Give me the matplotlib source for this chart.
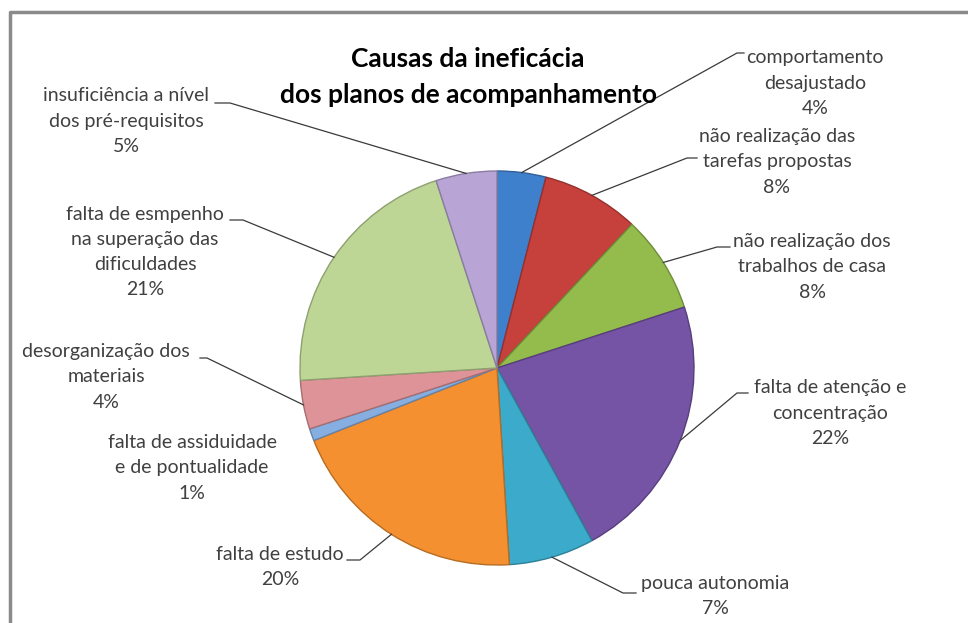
import matplotlib
matplotlib.use('Agg')
import matplotlib.pyplot as plt
from matplotlib.lines import Line2D
from matplotlib.colors import to_rgb
import numpy as np

# chart data
causas = ['comportamento\ndesajustado',
          'não realização das\ntarefas propostas',
          'não realização dos\ntrabalhos de casa',
          'falta de atenção e\nconcentração',
          'pouca autonomia',
          'falta de estudo',
          'falta de assiduidade\ne de pontualidade',
          'desorganização dos\nmateriais',
          'falta de esmpenho\nna superação das\ndificuldades',
          'insuficiência a nível\ndos pré-requisitos']
percent = [4, 8, 8, 22, 7, 20, 1, 4, 21, 5]
titulo = 'Causas da ineficácia\ndos planos de acompanhamento'

cores = ['#3F80CC', '#C6403C', '#93BC4C', '#7553A5', '#3CABCB',
         '#F4902F', '#86AEE0', '#DE9398', '#BDD595', '#B8A5D5']

# layout (pixel coords, y from top)
W, H = 968, 623
centro = (497, 368)
raio = 197
pos_rotulo = [(815, 83), (777, 162), (812, 267), (830, 413), (715, 596),
              (280, 567), (192, 468), (106, 377), (145, 252), (126, 121)]
# end of the diagonal part of the leader, then short horizontal tick
cotovelo = [(737, 53, 744), (687, 158, 697), (717, 247, 730), (737, 393, 748),
            (623, 593, 636), (360, 560, 347), None, (207, 358, 200),
            (243, 220, 230), (230, 103, 215)]

plt.rcParams['font.family'] = ['Lato', 'DejaVu Sans']

fig = plt.figure(figsize=(W / 100, H / 100), dpi=100)
ax = fig.add_axes([0, 0, 1, 1])

def escurece(c, f=0.75):
    r, g, b = to_rgb(c)
    return (r * f, g * f, b * f)

wedges, _ = ax.pie(percent, colors=cores, startangle=90, counterclock=False,
                   center=(centro[0], H - centro[1]), radius=raio,
                   wedgeprops=dict(linewidth=1.0))
for w, c in zip(wedges, cores):
    w.set_edgecolor(escurece(c))

ax.set_xlim(0, W)
ax.set_ylim(0, H)
ax.set_aspect('equal')
ax.axis('off')

# labels + leader lines
for w, txt, v, p, cv in zip(wedges, causas, percent, pos_rotulo, cotovelo):
    ax.text(p[0], H - p[1], txt + '\n' + str(v) + '%', ha='center', va='center',
            fontsize=14, color='#404040', linespacing=1.58)
    if cv is None:
        continue
    ang = np.deg2rad((w.theta1 + w.theta2) / 2)
    x0 = w.center[0] + w.r * np.cos(ang)
    y0 = w.center[1] + w.r * np.sin(ang)
    ax.add_line(Line2D([x0, cv[0], cv[2]], [y0, H - cv[1], H - cv[1]],
                       color='#3a3a3a', lw=0.9))

ax.text(468, H - 77, titulo, ha='center', va='center', fontsize=19,
        fontweight='bold', color='#000000', linespacing=1.6)

# chart area border (cut off at right and bottom)
ax.add_line(Line2D([10, 10, W], [0, H - 12, H - 12], color='#8a8a8a', lw=2.5))

fig.savefig('out.png', dpi=100)
